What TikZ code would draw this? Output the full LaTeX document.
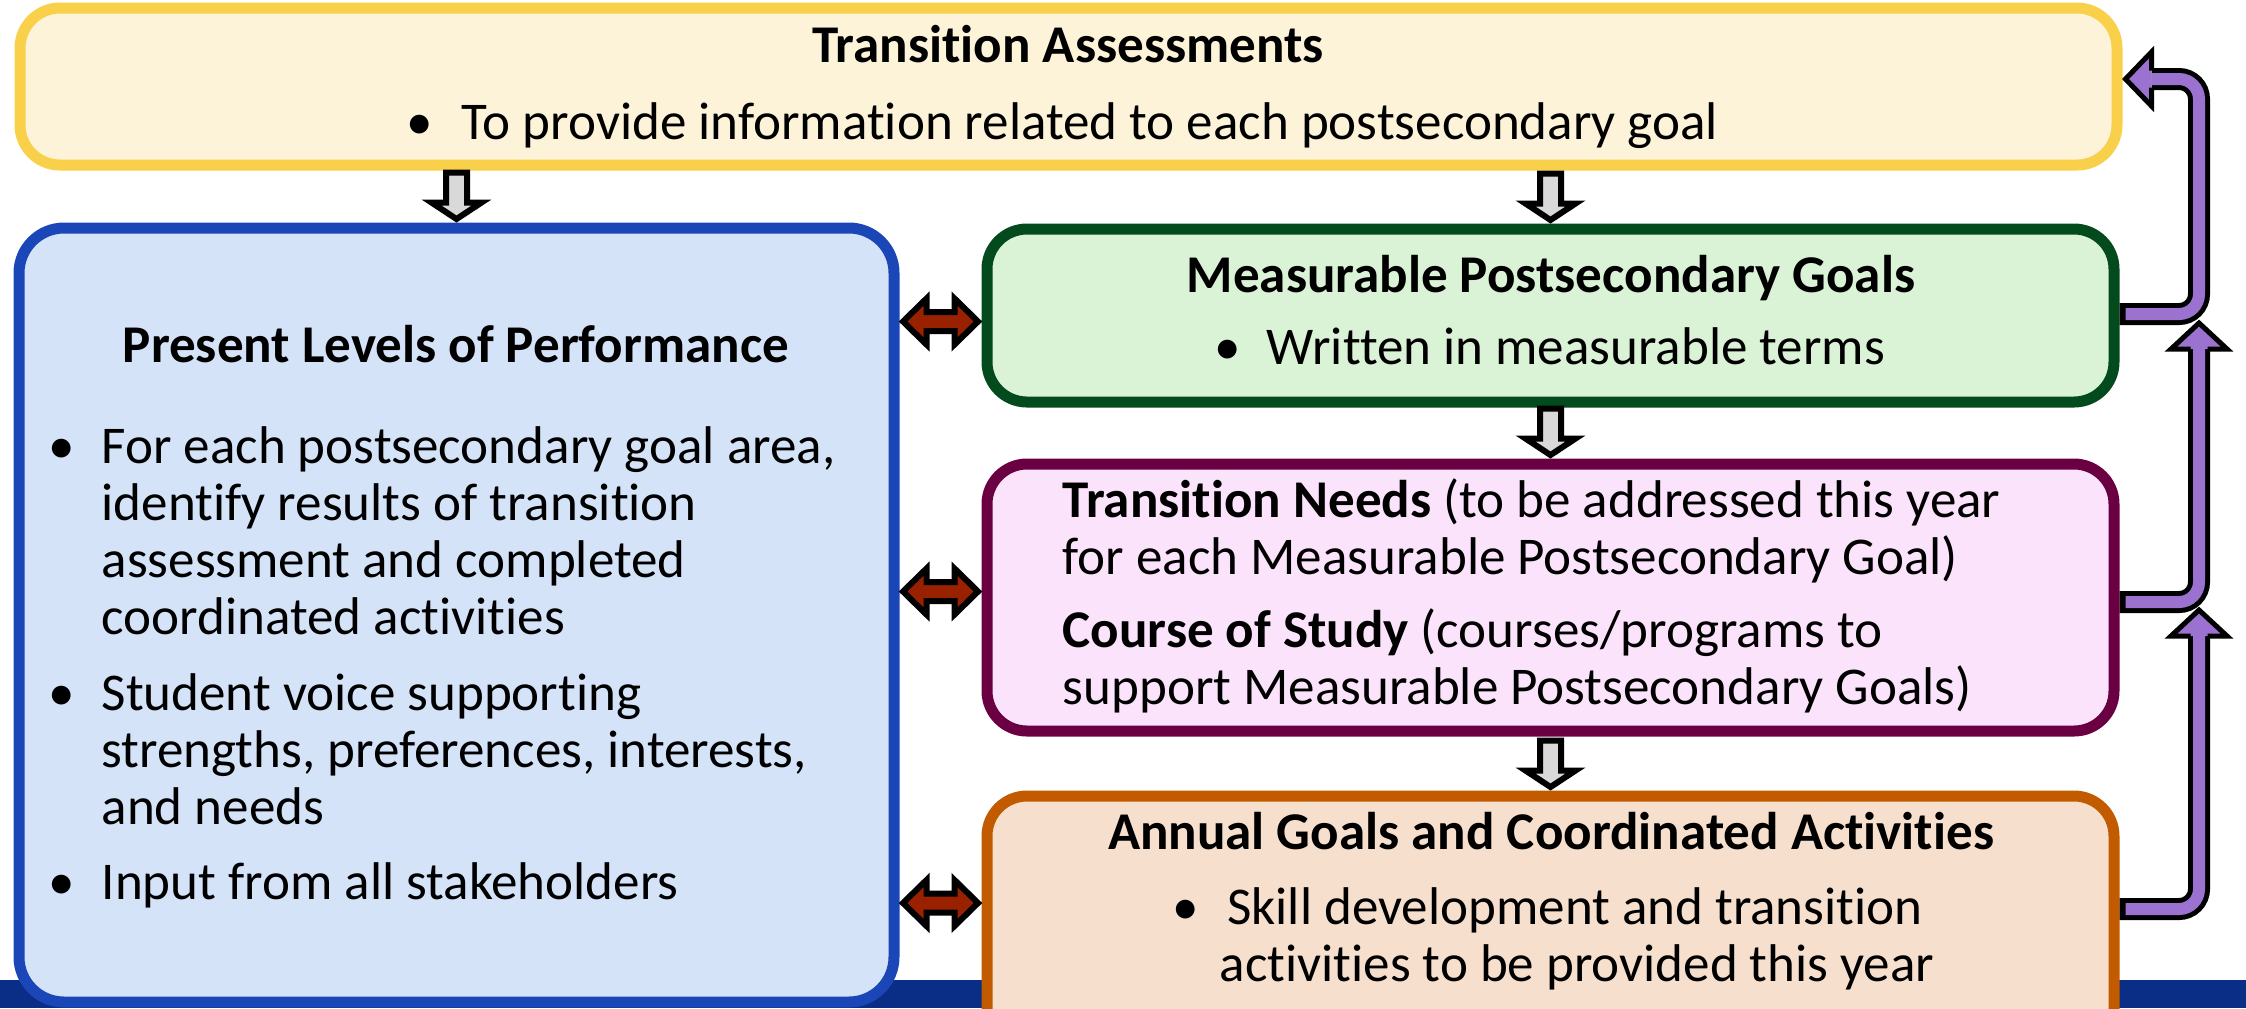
\documentclass[tikz,border=0pt]{standalone}
\usepackage{fontspec}
\setmainfont[Ligatures={NoCommon}]{Carlito}
\usetikzlibrary{calc}

\definecolor{taFill}{HTML}{FDF3D9}
\definecolor{taLine}{HTML}{F9D04A}
\definecolor{plpFill}{HTML}{D4E3F8}
\definecolor{plpLine}{HTML}{1A46B8}
\definecolor{mpgFill}{HTML}{DAF2D5}
\definecolor{mpgLine}{HTML}{034A1C}
\definecolor{tnFill}{HTML}{FBE3FB}
\definecolor{tnLine}{HTML}{6A0042}
\definecolor{agFill}{HTML}{F6E0CD}
\definecolor{agLine}{HTML}{C25B00}
\definecolor{barBlue}{HTML}{0A2D85}
\definecolor{arrowGray}{HTML}{D9D9D9}
\definecolor{arrowRed}{HTML}{9A2100}
\definecolor{arrowPurple}{HTML}{9B72CF}

\newcommand{\diagfont}{\fontsize{15.1pt}{17.8pt}\selectfont}

\begin{document}
\begin{tikzpicture}[x=0.1mm,y=-0.1mm,every node/.style={font=\diagfont}]
\tikzstyle{box}=[rectangle,rounded corners=4mm,line width=1.1mm]
\tikzstyle{ttl}=[anchor=base,inner sep=0pt,font=\diagfont\bfseries]
\tikzstyle{ctr}=[anchor=base,inner sep=0pt]
\tikzstyle{txt}=[anchor=base west,inner sep=0pt]
\tikzstyle{bul}=[anchor=base,inner sep=0pt]
\tikzstyle{garrow}=[draw=black,fill=arrowGray,line width=0.6mm,line join=miter]
\tikzstyle{rarrow}=[draw=black,fill=arrowRed,line width=0.6mm,line join=miter]
\tikzstyle{pshaft}=[draw=black,line width=2.2mm,rounded corners=2mm,
  postaction={draw=arrowPurple,line width=1.2mm,shorten <=0.6mm}]
\tikzstyle{phead}=[draw=black,fill=arrowPurple,line width=0.5mm,line join=miter]

\useasboundingbox (0,0) rectangle (2246,1008);
\fill[barBlue] (0,980) rectangle (2246,1008);

% boxes
\node[box,draw=taLine,fill=taFill,minimum width=209.7mm,minimum height=15.7mm] (ta) at (1068.5,86.5) {};
\node[box,draw=plpLine,fill=plpFill,minimum width=87.5mm,minimum height=77.4mm,rounded corners=4.5mm] (plp) at (456.5,615) {};
\node[box,draw=mpgLine,fill=mpgFill,minimum width=112.7mm,minimum height=17.3mm] (mpg) at (1550.5,315.5) {};
\node[box,draw=tnLine,fill=tnFill,minimum width=112.7mm,minimum height=26.7mm] (tn) at (1550.5,597.5) {};
\node[box,draw=agLine,fill=agFill,minimum width=112.7mm,minimum height=26.4mm] (ag) at (1550.5,928) {};

% texts
\node[ttl] (ta-t) at (1068,62) {Transition Assessments};
\node[bul] (ta-b) at (420,139) {•};
\node[txt] (ta-1) at (461,139) {To provide information related to each postsecondary goal};

\node[ttl] (plp-t) at (456,362) {Present Levels of Performance};
\foreach \y [count=\i] in {463,710,899}
  \node[bul] (plp-b\i) at (62,\y) {•};
\foreach \y/\t [count=\i] in {463/{For each postsecondary goal area,},
    520/{identify results of transition},
    577/{assessment and completed},
    634/{coordinated activities},
    710/{Student voice supporting},
    767/{strengths, preferences, interests,},
    824/{and needs},
    899/{Input from all stakeholders}}
  \node[txt] (plp-\i) at (101,\y) {\t};

\node[ttl] (mpg-t) at (1551,292) {Measurable Postsecondary Goals};
\node[bul] (mpg-b) at (1228,364) {•};
\node[txt] (mpg-1) at (1266,364) {Written in measurable terms};

\node[txt] (tn-1) at (1062,517) {\textbf{Transition Needs} (to be addressed this year};
\node[txt] (tn-2) at (1062,574) {for each Measurable Postsecondary Goal)};
\node[txt] (tn-3) at (1062,647) {\textbf{Course of Study} (courses/programs to};
\node[txt] (tn-4) at (1062,704) {support Measurable Postsecondary Goals)};

\node[ttl] (ag-t) at (1551,849) {Annual Goals and Coordinated Activities};
\node[bul] (ag-b) at (1186,924) {•};
\node[ctr] (ag-1) at (1575,924) {Skill development and transition};
\node[ctr] (ag-2) at (1577,981) {activities to be provided this year};

% gray arrows down into each box
\foreach \n in {plp,mpg,tn,ag}
  \draw[garrow,shift={(\n.north)}] (-10.5,-50) -- (10.5,-50) -- (10.5,-20) -- (25,-20)
    -- (0,-3.5) -- (-25,-20) -- (-10.5,-20) -- cycle;

% red double arrows
\foreach \n/\d in {mpg/6,tn/-6,ag/-25}
  \draw[rarrow,shift={($(plp.east |- \n.west)!.5!(\n.west)+(0,\d)$)}] (-37.5,0) -- (-14,-23)
    -- (-14,-9.5) -- (14,-9.5) -- (14,-23) -- (37.5,0) -- (14,23) -- (14,9.5)
    -- (-14,9.5) -- (-14,23) -- cycle;

% purple feedback arrows
\coordinate (h1) at (ta.east |- 0,79);
\coordinate (h2) at (2199,320);
\coordinate (h3) at (2199,607);
\draw[pshaft] (mpg.east |- 0,314) -| (2199,79) -- ($(h1)+(29,0)$);
\draw[pshaft] (tn.east |- 0,602) -| ($(h2)+(0,29)$);
\draw[pshaft] (ag.east |- 0,909) -| ($(h3)+(0,29)$);
\draw[phead,shift={(h1)},rotate=180] (-29,-8.5) -- (-29,-27) -- (-3,0) -- (-29,27) -- (-29,8.5);
\draw[phead,shift={(h2)},rotate=90] (-29,-8.5) -- (-29,-28) -- (-3,0) -- (-29,28) -- (-29,8.5);
\draw[phead,shift={(h3)},rotate=90] (-29,-8.5) -- (-29,-28) -- (-3,0) -- (-29,28) -- (-29,8.5);

\end{tikzpicture}
\end{document}
